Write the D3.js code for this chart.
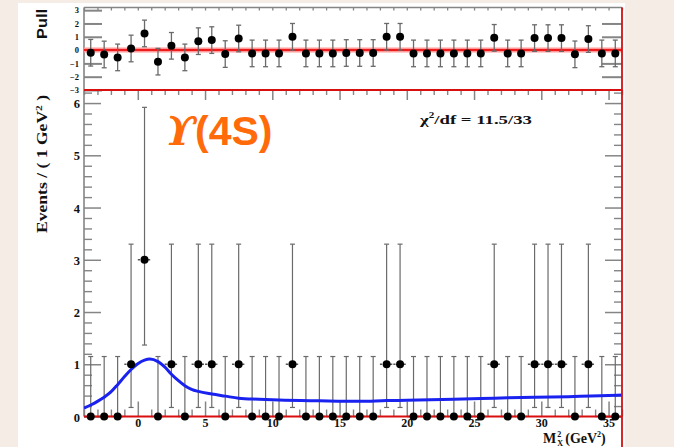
<!DOCTYPE html>
<html>
<head>
<meta charset="utf-8">
<script src="https://cdn.jsdelivr.net/npm/d3@7"></script>
<style>
  body { margin: 0; background: #f4ece5; }
  svg { display: block; }
</style>
</head>
<body>
<svg id="chart" width="674" height="447"></svg>
<script>
// Bin centres of the 1 GeV^2 histogram of M_X^2
const binCenters = [-3.5, -2.5, -1.5, -0.5, 0.5, 1.5, 2.5, 3.5, 4.5, 5.5,
                    6.5, 7.5, 8.5, 9.5, 10.5, 11.5, 12.5, 13.5, 14.5, 15.5,
                    16.5, 17.5, 18.5, 19.5, 20.5, 21.5, 22.5, 23.5, 24.5, 25.5,
                    26.5, 27.5, 28.5, 29.5, 30.5, 31.5, 32.5, 33.5, 34.5, 35.5];
// Events per bin
const counts = [0, 0, 0, 1, 3, 0, 1, 0, 1, 1,
                0, 1, 0, 0, 0, 1, 0, 0, 0, 0,
                0, 0, 1, 1, 0, 0, 0, 0, 0, 0,
                1, 0, 0, 1, 1, 1, 0, 1, 0, 0];
// Pull of each bin with respect to the fit
const pulls = [-0.2, -0.33, -0.55, 0.12, 1.25, -0.87, 0.32, -0.55, 0.67, 0.75,
               -0.3, 0.87, -0.25, -0.25, -0.25, 1.0, -0.25, -0.25, -0.25, -0.22,
               -0.22, -0.22, 1.0, 1.0, -0.25, -0.25, -0.25, -0.25, -0.25, -0.25,
               0.92, -0.25, -0.25, 0.9, 0.9, 0.9, -0.32, 0.83, -0.25, -0.25];
// Asymmetric Poisson errors [low, high] for the observed counts
const poissonErr = { 0: [0, 1.148], 1: [0.827, 2.299], 3: [1.632, 2.918] };
// Fitted PDF
const curveX = [-4, -3.5, -3, -2.5, -2, -1.5, -1, -0.5, 0, 0.5, 0.9, 1.5, 2, 2.5, 3, 3.5,
                4, 4.5, 5.5, 6.5, 7.5, 9, 10.5, 13.5, 16.5, 18.5, 20, 23.5, 26.5, 29.5, 32, 35, 36];
const curveY = [0.16, 0.22, 0.29, 0.37, 0.47, 0.61, 0.76, 0.90, 1.01, 1.08, 1.10, 1.05, 0.95, 0.81, 0.69, 0.59,
                0.52, 0.48, 0.43, 0.39, 0.35, 0.33, 0.315, 0.30, 0.29, 0.305, 0.31, 0.33, 0.35, 0.37, 0.38, 0.40, 0.41];
const xTickValues = [0, 5, 10, 15, 20, 25, 30, 35];
const yTickValues = [0, 1, 2, 3, 4, 5, 6];
const pullTickValues = [-3, -2, -1, 0, 1, 2, 3];
const fitLabel = "11.5/33";

const svg = d3.select("#chart");
const W = 674, H = 447;

const frame = { left: 84, right: 622 };
const pullBox = { top: 7.5, bottom: 90 };
const mainBox = { top: 90, bottom: 416.5 };

const RED = "#d90f0f", GREY = "#858585", ERR = "#6a6a6a";
const serif = "'Liberation Serif', 'Times New Roman', serif";
const sans = "'Liberation Sans', Arial, sans-serif";

// white canvas
svg.append("rect").attr("x", 18).attr("y", 3).attr("width", 607).attr("height", H - 3).attr("fill", "#ffffff");

const x = d3.scaleLinear().domain([-4, 36]).range([frame.left, frame.right]);
const y = d3.scaleLinear().domain([0, 6.25]).range([mainBox.bottom, mainBox.top]);
const yp = d3.scaleLinear().domain([-3, 3.2]).range([pullBox.bottom, pullBox.top]);

function styleAxis(g, width) {
  g.select(".domain").remove();
  g.selectAll(".tick line").attr("stroke", GREY).attr("stroke-width", width || 1.4);
  g.selectAll(".tick text").attr("fill", "#111").attr("font-family", serif).attr("font-weight", "bold");
}

const intTicks = d3.range(-4, 37, 1).filter(v => v % 5 !== 0);
const minorY = d3.range(0, 6.25, 0.2).filter(v => Math.abs(v - Math.round(v)) > 1e-6);

/* ---------------- pull panel ---------------- */
const gp = svg.append("g");

// y axis (left + right)
gp.append("g").attr("transform", `translate(${frame.left},0)`)
  .call(d3.axisLeft(yp).tickValues(pullTickValues).tickSize(-18).tickPadding(5).tickFormat(d3.format("d")))
  .call(g => { styleAxis(g, 2); g.selectAll(".tick text").attr("font-size", 8.5); });
gp.append("g").attr("transform", `translate(${frame.right},0)`)
  .call(d3.axisRight(yp).tickValues(pullTickValues.filter(v => Math.abs(v) < 3)).tickSize(-20).tickFormat(""))
  .call(g => styleAxis(g, 2));
// top edge ticks
gp.append("g").attr("transform", `translate(0,${pullBox.top})`)
  .call(d3.axisTop(x).tickValues(d3.range(-4, 37, 1)).tickSize(-3).tickFormat(""))
  .call(g => styleAxis(g, 1.3));

// frame
gp.append("line").attr("x1", frame.left).attr("x2", frame.right).attr("y1", pullBox.top).attr("y2", pullBox.top)
  .attr("stroke", GREY).attr("stroke-width", 1.6);
gp.append("line").attr("x1", frame.left).attr("x2", frame.left).attr("y1", pullBox.top).attr("y2", pullBox.bottom)
  .attr("stroke", GREY).attr("stroke-width", 1.6);

// zero line
gp.append("line").attr("x1", frame.left).attr("x2", frame.right).attr("y1", yp(0)).attr("y2", yp(0))
  .attr("stroke", "#ff9a9a").attr("stroke-width", 5);
gp.append("line").attr("x1", frame.left).attr("x2", frame.right).attr("y1", yp(0)).attr("y2", yp(0))
  .attr("stroke", "#ee1c1c").attr("stroke-width", 2);

// pull points with unit error bars
const pullData = binCenters.map((c, i) => ({ c, p: pulls[i] }));
const pg = gp.selectAll("g.pull").data(pullData).join("g").attr("class", "pull");
pg.append("line").attr("x1", d => x(d.c)).attr("x2", d => x(d.c))
  .attr("y1", d => yp(d.p - 1)).attr("y2", d => yp(d.p + 1))
  .attr("stroke", ERR).attr("stroke-width", 1.3);
pg.append("line").attr("x1", d => x(d.c) - 2.5).attr("x2", d => x(d.c) + 2.5)
  .attr("y1", d => yp(d.p + 1)).attr("y2", d => yp(d.p + 1)).attr("stroke", ERR).attr("stroke-width", 1.3);
pg.append("line").attr("x1", d => x(d.c) - 2.5).attr("x2", d => x(d.c) + 2.5)
  .attr("y1", d => yp(d.p - 1)).attr("y2", d => yp(d.p - 1)).attr("stroke", ERR).attr("stroke-width", 1.3);
pg.append("circle").attr("cx", d => x(d.c)).attr("cy", d => yp(d.p)).attr("r", 4).attr("fill", "#000");

// right frame of the pull panel
gp.append("line").attr("x1", frame.right).attr("x2", frame.right).attr("y1", pullBox.top).attr("y2", pullBox.bottom)
  .attr("stroke", RED).attr("stroke-width", 1.8);

svg.append("text")
  .attr("transform", `translate(47,${(9 + 39) / 2}) rotate(-90)`)
  .attr("text-anchor", "middle").attr("font-family", sans).attr("font-weight", "bold")
  .attr("font-size", 14).attr("textLength", 30).attr("lengthAdjust", "spacingAndGlyphs")
  .attr("fill", "#111").text("Pull");

/* ---------------- main panel ---------------- */
const gm = svg.append("g");

// left y axis
gm.append("g").attr("transform", `translate(${frame.left},0)`)
  .call(d3.axisLeft(y).tickValues(yTickValues).tickSize(-17).tickPadding(4).tickFormat(d3.format("d")))
  .call(g => { styleAxis(g, 1.5); g.selectAll(".tick text").attr("font-size", 12.5).attr("dy", "0.36em"); });
gm.append("g").attr("transform", `translate(${frame.left},0)`)
  .call(d3.axisLeft(y).tickValues(minorY).tickSize(-8).tickFormat(""))
  .call(g => styleAxis(g, 1.4));
// right y axis
gm.append("g").attr("transform", `translate(${frame.right},0)`)
  .call(d3.axisRight(y).tickValues(yTickValues).tickSize(-17).tickFormat(""))
  .call(g => styleAxis(g, 1.5));
gm.append("g").attr("transform", `translate(${frame.right},0)`)
  .call(d3.axisRight(y).tickValues(minorY).tickSize(-8).tickFormat(""))
  .call(g => styleAxis(g, 1.4));
// bottom x axis
gm.append("g").attr("transform", `translate(0,${mainBox.bottom})`)
  .call(d3.axisBottom(x).tickValues(xTickValues).tickSize(-15).tickPadding(2).tickFormat(d3.format("d")))
  .call(g => { styleAxis(g, 1.5); g.selectAll(".tick text").attr("font-size", 12).attr("dy", "0.7em"); });
gm.append("g").attr("transform", `translate(0,${mainBox.bottom})`)
  .call(d3.axisBottom(x).tickValues(intTicks).tickSize(-7).tickFormat(""))
  .call(g => styleAxis(g, 1.4));
// top x axis
gm.append("g").attr("transform", `translate(0,${mainBox.top})`)
  .call(d3.axisTop(x).tickValues(xTickValues).tickSize(-10).tickFormat(""))
  .call(g => styleAxis(g, 1.5));
gm.append("g").attr("transform", `translate(0,${mainBox.top})`)
  .call(d3.axisTop(x).tickValues(intTicks).tickSize(-5).tickFormat(""))
  .call(g => styleAxis(g, 1.4));

// left frame line
gm.append("line").attr("x1", frame.left).attr("x2", frame.left).attr("y1", mainBox.top).attr("y2", mainBox.bottom)
  .attr("stroke", GREY).attr("stroke-width", 1.6);

// data error bars
const histData = binCenters.map((c, i) => ({ c, n: counts[i], lo: poissonErr[counts[i]][0], hi: poissonErr[counts[i]][1] }));
const hg = gm.selectAll("g.bin").data(histData).join("g").attr("class", "bin");
hg.append("line").attr("x1", d => x(d.c)).attr("x2", d => x(d.c))
  .attr("y1", d => y(d.n - d.lo)).attr("y2", d => y(d.n + d.hi))
  .attr("stroke", ERR).attr("stroke-width", 1.2);
hg.append("line").attr("x1", d => x(d.c) - 2.5).attr("x2", d => x(d.c) + 2.5)
  .attr("y1", d => y(d.n + d.hi)).attr("y2", d => y(d.n + d.hi)).attr("stroke", ERR).attr("stroke-width", 1.2);
hg.filter(d => d.lo > 0).append("line").attr("x1", d => x(d.c) - 2.5).attr("x2", d => x(d.c) + 2.5)
  .attr("y1", d => y(d.n - d.lo)).attr("y2", d => y(d.n - d.lo)).attr("stroke", ERR).attr("stroke-width", 1.2);
hg.append("line").attr("x1", d => x(d.c - 0.5)).attr("x2", d => x(d.c + 0.5))
  .attr("y1", d => y(d.n)).attr("y2", d => y(d.n))
  .attr("stroke", "#555").attr("stroke-width", 1.6).attr("stroke-dasharray", "2.2,1.2");

// fitted PDF
gm.append("clipPath").attr("id", "plotClip").append("rect")
  .attr("x", frame.left).attr("y", mainBox.top).attr("width", frame.right - frame.left).attr("height", mainBox.bottom - mainBox.top);
const line = d3.line().x(d => x(d[0])).y(d => y(d[1])).curve(d3.curveMonotoneX);
gm.append("path").datum(curveX.map((v, i) => [v, curveY[i]]))
  .attr("d", line).attr("fill", "none").attr("stroke", "#1a22f0").attr("stroke-width", 3)
  .attr("clip-path", "url(#plotClip)");

// red frame lines
gm.append("line").attr("x1", frame.left).attr("x2", frame.right).attr("y1", mainBox.top).attr("y2", mainBox.top)
  .attr("stroke", RED).attr("stroke-width", 1.8);
gm.append("line").attr("x1", frame.left).attr("x2", frame.right).attr("y1", mainBox.bottom).attr("y2", mainBox.bottom)
  .attr("stroke", RED).attr("stroke-width", 1.8);
gm.append("line").attr("x1", frame.right).attr("x2", frame.right).attr("y1", mainBox.top).attr("y2", H)
  .attr("stroke", RED).attr("stroke-width", 1.8);

// data points
gm.selectAll("circle.pt").data(histData).join("circle").attr("class", "pt")
  .attr("cx", d => x(d.c)).attr("cy", d => y(d.n)).attr("r", 4).attr("fill", "#000");

// y title
svg.append("text")
  .attr("transform", `translate(46.5,95) rotate(-90)`)
  .attr("text-anchor", "end").attr("font-family", serif).attr("font-weight", "bold")
  .attr("font-size", 14).attr("fill", "#111")
  .attr("textLength", 138).attr("lengthAdjust", "spacingAndGlyphs")
  .call(t => {
    t.append("tspan").text("Events / ( 1 GeV");
    t.append("tspan").attr("font-size", 9).attr("dy", -5).text("2");
    t.append("tspan").attr("dy", 5).text(" )");
  });

// x title: M_X^2 (GeV^2)
{
  const base = 443, x0 = 543;
  const m = svg.append("text").attr("x", x0).attr("y", base).attr("font-family", serif).attr("font-weight", "bold")
    .attr("font-size", 14).attr("fill", "#111").text("M");
  const wm = m.node().getComputedTextLength();
  svg.append("text").attr("x", x0 + wm + 1).attr("y", base - 6).attr("font-family", serif).attr("font-weight", "bold")
    .attr("font-size", 8).attr("fill", "#111").text("2");
  svg.append("text").attr("x", x0 + wm + 1).attr("y", base + 3).attr("font-family", serif).attr("font-weight", "bold")
    .attr("font-size", 8).attr("fill", "#111").text("X");
  const r = svg.append("text").attr("x", x0 + wm + 9).attr("y", base).attr("font-family", serif).attr("font-weight", "bold")
    .attr("font-size", 14).attr("fill", "#111");
  r.append("tspan").text("(GeV");
  r.append("tspan").attr("font-size", 8).attr("dy", -6).text("2");
  r.append("tspan").attr("dy", 6).text(")");
}

// chi2 / ndf
svg.append("text").attr("x", 420).attr("y", 124).attr("font-family", serif).attr("font-weight", "bold")
  .attr("font-size", 13.5).attr("fill", "#111")
  .attr("textLength", 112).attr("lengthAdjust", "spacingAndGlyphs")
  .call(t => {
    t.append("tspan").text("\u03c7");
    t.append("tspan").attr("font-size", 8).attr("dy", -6).text("2");
    t.append("tspan").attr("dy", 6).text("/df = " + fitLabel);
  });

// resonance label: slanted upsilon followed by (4S)
svg.append("text").attr("transform", "translate(162,145) skewX(-14)")
  .attr("font-family", "'DejaVu Serif', serif").attr("font-weight", "bold")
  .attr("font-size", 40).attr("fill", "#ff6a0a").text("\u03d2");
svg.append("text").attr("x", 195).attr("y", 145).attr("font-family", sans).attr("font-weight", "bold")
  .attr("font-size", 41).attr("fill", "#ff6a0a").text("(4S)");
</script>
</body>
</html>
